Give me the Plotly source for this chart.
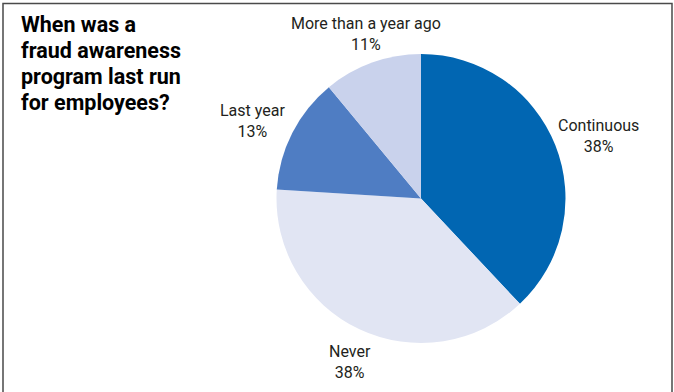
import math
import plotly.graph_objects as go

# Survey answers, in the order the slices are laid out clockwise from 12 o'clock
categories = ["Continuous", "Never", "Last year", "More than a year ago"]
shares = [38, 38, 13, 11]
slice_colors = ["#0166b2", "#e1e5f3", "#4f7dc3", "#c9d2ec"]

title_lines = ["When was a", "fraud awareness", "program last run", "for employees?"]

W, H = 674, 392
FONT = "Roboto, Liberation Sans, sans-serif"
TEXT_COLOR = "#231f20"

# Pie placement in pixels (centre and radius)
CX, CY, R = 421.0, 198.5, 144.5
# Extra room between the rim and the label centre, horizontally / vertically
PAD_X, PAD_Y = 50.0, 33.0
# Small downward nudge so the two-line block sits on its optical centre
LABEL_DROP = 3.0


def px_to_paper(x, y):
    return x / W, 1 - y / H


fig = go.Figure(
    go.Pie(
        labels=categories,
        values=shares,
        marker=dict(colors=slice_colors, line=dict(width=0)),
        sort=False,
        direction="clockwise",
        rotation=0,
        textinfo="none",
        showlegend=False,
        hoverinfo="label+value",
        domain=dict(x=[(CX - R) / W, (CX + R) / W], y=[(H - CY - R) / H, (H - CY + R) / H]),
    )
)

# Category labels sit just outside each slice, on its mid-angle
annotations = []
total = sum(shares)
start = 0.0
for name, value in zip(categories, shares):
    mid = (start + value / 2) / total * 2 * math.pi
    start += value
    ux, uy = math.sin(mid), -math.cos(mid)
    lx = CX + ux * R + ux * abs(ux) * PAD_X
    ly = CY + uy * R + uy * PAD_Y + LABEL_DROP
    px, py = px_to_paper(lx, ly)
    annotations.append(
        dict(
            x=px,
            y=py,
            xref="paper",
            yref="paper",
            xanchor="center",
            yanchor="middle",
            align="center",
            showarrow=False,
            text=f"{name}<br>{value}%",
            font=dict(family=FONT, size=16, color=TEXT_COLOR),
        )
    )

# Title, one line per annotation for tight leading
TITLE_SIZE = 21.5
for i, line in enumerate(title_lines):
    baseline = 32 + 26 * i
    tx, ty = px_to_paper(19, baseline - 0.34 * TITLE_SIZE)
    annotations.append(
        dict(
            x=tx,
            y=ty,
            xref="paper",
            yref="paper",
            xanchor="left",
            yanchor="middle",
            align="left",
            showarrow=False,
            text=line,
            font=dict(family=FONT, size=TITLE_SIZE, color="#000000", weight="bold"),
        )
    )

fig.update_layout(
    width=W,
    height=H,
    margin=dict(l=0, r=0, t=0, b=0),
    paper_bgcolor="white",
    plot_bgcolor="white",
    annotations=annotations,
    shapes=[
        dict(
            type="rect",
            xref="paper",
            yref="paper",
            x0=3 / W,
            x1=672 / W,
            y0=-0.05,
            y1=1 - 3.5 / H,
            line=dict(color="#4a4a4a", width=1.5),
            fillcolor="rgba(0,0,0,0)",
            layer="above",
        )
    ],
)

fig.write_html("out.html")
